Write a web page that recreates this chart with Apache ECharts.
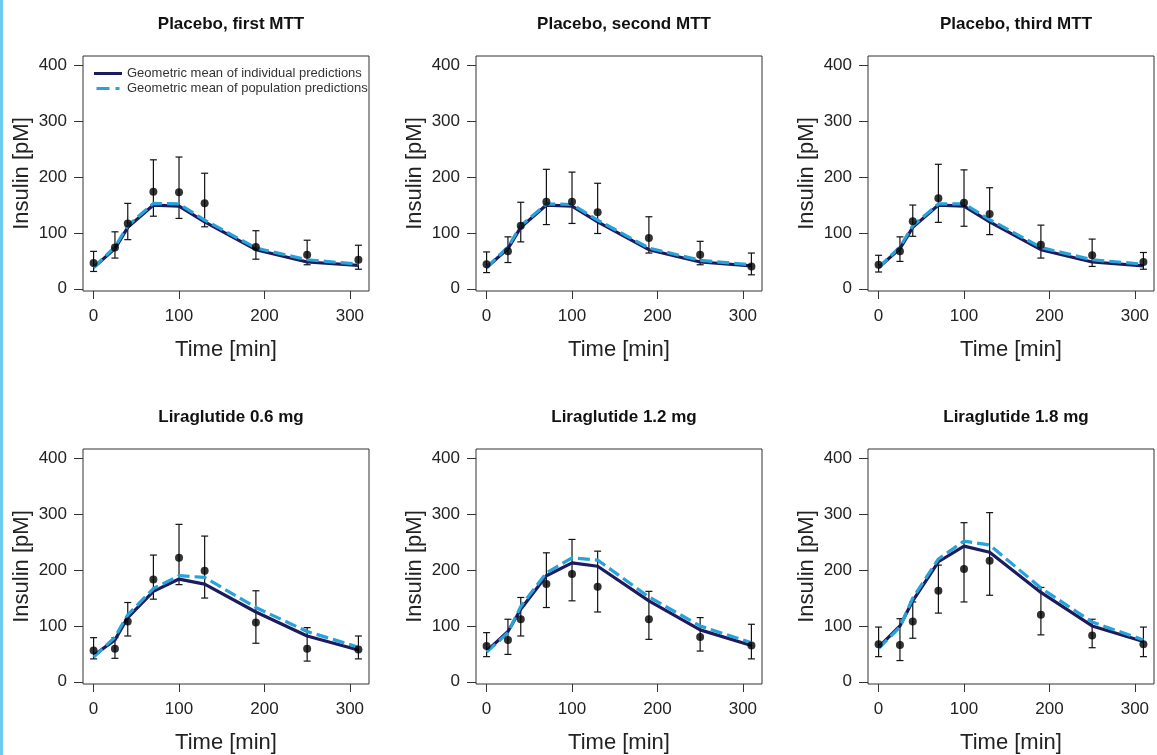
<!DOCTYPE html>
<html>
<head>
<meta charset="utf-8">
<script src="https://cdn.jsdelivr.net/npm/echarts@6.0.0/dist/echarts.min.js"></script>
<style>
  html, body { margin: 0; padding: 0; background: #fff; }
  #root { width: 1157px; height: 755px; }
</style>
</head>
<body>
<div id="root"></div>
<script>
// sampling times [min]
const times = [0, 25, 40, 70, 100, 130, 190, 250, 310];

// Placebo, first MTT
const obsP1 = [46, 74, 117, 174, 173, 153, 75, 61, 52];
const loP1 = [31, 55, 88, 130, 126, 111, 53, 43, 35];
const hiP1 = [67, 102, 153, 231, 236, 207, 104, 87, 78];
const ipredP1 = [38, 72, 110, 150, 148, 120, 70, 48, 42];
const ppredP1 = [38, 75, 113, 153, 152, 123, 73, 52, 44];

// Placebo, second MTT
const obsP2 = [44, 67, 113, 156, 156, 137, 91, 61, 40];
const loP2 = [29, 47, 84, 115, 117, 99, 64, 43, 25];
const hiP2 = [66, 93, 155, 214, 209, 189, 129, 85, 64];
const ipredP2 = [38, 72, 110, 150, 148, 120, 70, 48, 41];
const ppredP2 = [38, 75, 113, 152, 151, 123, 73, 51, 43];

// Placebo, third MTT
const obsP3 = [43, 67, 121, 162, 154, 134, 79, 60, 48];
const loP3 = [30, 49, 94, 119, 112, 97, 55, 40, 35];
const hiP3 = [60, 93, 150, 223, 213, 181, 114, 89, 65];
const ipredP3 = [38, 72, 110, 150, 148, 120, 70, 48, 41];
const ppredP3 = [38, 75, 113, 152, 152, 124, 74, 52, 44];

// Liraglutide 0.6 mg
const obsL06 = [56, 59, 108, 183, 222, 199, 106, 59, 58];
const loL06 = [41, 42, 82, 148, 174, 150, 69, 37, 41];
const hiL06 = [79, 79, 142, 227, 282, 261, 163, 97, 82];
const ipredL06 = [47, 75, 115, 162, 184, 175, 125, 82, 57];
const ppredL06 = [44, 80, 120, 167, 190, 187, 133, 90, 62];

// Liraglutide 1.2 mg
const obsL12 = [64, 75, 112, 175, 193, 170, 112, 80, 65];
const loL12 = [45, 49, 82, 133, 145, 125, 76, 55, 41];
const hiL12 = [88, 112, 151, 231, 255, 234, 162, 115, 103];
const ipredL12 = [55, 90, 130, 190, 213, 207, 145, 93, 65];
const ppredL12 = [53, 88, 135, 195, 222, 218, 152, 100, 70];

// Liraglutide 1.8 mg
const obsL18 = [67, 66, 108, 163, 202, 217, 120, 83, 67];
const loL18 = [45, 38, 78, 123, 143, 155, 84, 61, 45];
const hiL18 = [98, 113, 143, 209, 285, 303, 169, 112, 98];
const ipredL18 = [62, 100, 145, 215, 243, 232, 160, 100, 72];
const ppredL18 = [60, 98, 150, 220, 252, 245, 168, 107, 75];

const xTicks = [0, 100, 200, 300];
const yTicks = [0, 100, 200, 300, 400];

const panels = [
  { title: 'Placebo, first MTT', obs: obsP1, lo: loP1, hi: hiP1, ipred: ipredP1, ppred: ppredP1 },
  { title: 'Placebo, second MTT', obs: obsP2, lo: loP2, hi: hiP2, ipred: ipredP2, ppred: ppredP2 },
  { title: 'Placebo, third MTT', obs: obsP3, lo: loP3, hi: hiP3, ipred: ipredP3, ppred: ppredP3 },
  { title: 'Liraglutide 0.6 mg', obs: obsL06, lo: loL06, hi: hiL06, ipred: ipredL06, ppred: ppredL06 },
  { title: 'Liraglutide 1.2 mg', obs: obsL12, lo: loL12, hi: hiL12, ipred: ipredL12, ppred: ppredL12 },
  { title: 'Liraglutide 1.8 mg', obs: obsL18, lo: loL18, hi: hiL18, ipred: ipredL18, ppred: ppredL18 },
];

const IND_NAME = 'Geometric mean of individual predictions';
const POP_NAME = 'Geometric mean of population predictions';
const NAVY = '#1b1b5e';
const BLUE = '#27a2da';
const FONT = "'Liberation Sans', Arial, sans-serif";

const colLeft = [83, 476, 868];
const rowTop = [56, 449];
const boxW = 286;
const boxH = 235;

const grids = [], xAxes = [], yAxes = [], titles = [], series = [];

const errorBars = (params, api) => {
  const x = api.value(0);
  const top = api.coord([x, api.value(2)]);
  const bot = api.coord([x, api.value(1)]);
  const w = 3.5;
  const style = { stroke: '#111', lineWidth: 1.2 };
  return {
    type: 'group',
    children: [
      { type: 'line', shape: { x1: top[0], y1: top[1], x2: bot[0], y2: bot[1] }, style },
      { type: 'line', shape: { x1: top[0] - w, y1: top[1], x2: top[0] + w, y2: top[1] }, style },
      { type: 'line', shape: { x1: bot[0] - w, y1: bot[1], x2: bot[0] + w, y2: bot[1] }, style },
    ],
  };
};

panels.forEach((p, i) => {
  const left = colLeft[i % 3];
  const top = rowTop[Math.floor(i / 3)];
  grids.push({
    left, top, width: boxW, height: boxH,
    show: true, borderColor: '#333', borderWidth: 1, backgroundColor: 'transparent',
  });
  titles.push({
    text: p.title,
    left: left + boxW / 2,
    top: top - 45,
    textAlign: 'center',
    textStyle: { fontFamily: FONT, fontWeight: 'bold', fontSize: 17, color: '#111' },
  });
  xAxes.push({
    type: 'value', gridIndex: i, min: -12.4, max: 322.4,
    name: 'Time [min]', nameLocation: 'middle', nameGap: 48,
    nameTextStyle: { fontFamily: FONT, fontSize: 22, color: '#222' },
    axisLine: { show: false, onZero: false },
    axisTick: { show: true, inside: false, length: 8, customValues: xTicks, lineStyle: { color: '#333' } },
    axisLabel: { customValues: xTicks, margin: 17, fontFamily: FONT, fontSize: 17, color: '#222' },
    splitLine: { show: false },
  });
  yAxes.push({
    type: 'value', gridIndex: i, min: -4, max: 417,
    name: 'Insulin [pM]', nameLocation: 'middle', nameGap: 50, nameRotate: 90,
    nameTextStyle: { fontFamily: FONT, fontSize: 22, color: '#222' },
    axisLine: { show: false, onZero: false },
    axisTick: { show: true, inside: false, length: 9, customValues: yTicks, lineStyle: { color: '#333' } },
    axisLabel: { customValues: yTicks, margin: 16, fontFamily: FONT, fontSize: 17, color: '#222' },
    splitLine: { show: false },
  });

  series.push({
    type: 'custom', xAxisIndex: i, yAxisIndex: i,
    renderItem: errorBars,
    data: times.map((t, k) => [t, p.lo[k], p.hi[k]]),
    silent: true, z: 2,
  });
  series.push({
    name: IND_NAME, type: 'line', xAxisIndex: i, yAxisIndex: i,
    data: times.map((t, k) => [t, p.ipred[k]]),
    symbol: 'none', color: NAVY,
    lineStyle: { color: NAVY, width: 3.2 }, z: 3,
  });
  series.push({
    name: POP_NAME, type: 'line', xAxisIndex: i, yAxisIndex: i,
    data: times.map((t, k) => [t, p.ppred[k]]),
    symbol: 'none', color: BLUE,
    lineStyle: { color: BLUE, width: 3.2, type: [12, 5] }, z: 4,
  });
  series.push({
    type: 'scatter', xAxisIndex: i, yAxisIndex: i,
    data: times.map((t, k) => [t, p.obs[k]]),
    symbol: 'circle', symbolSize: 8,
    itemStyle: { color: '#000' }, z: 5,
  });
});

const chart = echarts.init(document.getElementById('root'));
chart.setOption({
  animation: false,
  backgroundColor: '#fff',
  title: titles,
  grid: grids,
  xAxis: xAxes,
  yAxis: yAxes,
  legend: {
    data: [
      { name: IND_NAME, icon: 'path://M0,0H28V3H0Z' },
      { name: POP_NAME, icon: 'path://M0,0H13V3H0Z M19,0H23V3H19Z' },
    ],
    orient: 'vertical',
    left: 89, top: 62,
    itemWidth: 28, itemHeight: 3, itemGap: 2,
    textStyle: { fontFamily: FONT, fontSize: 13, color: '#333' },
  },
  graphic: [
    { type: 'rect', left: 0, top: 0, shape: { width: 3, height: 755 }, style: { fill: '#6ccbef' } },
  ],
  series,
});
</script>
</body>
</html>
